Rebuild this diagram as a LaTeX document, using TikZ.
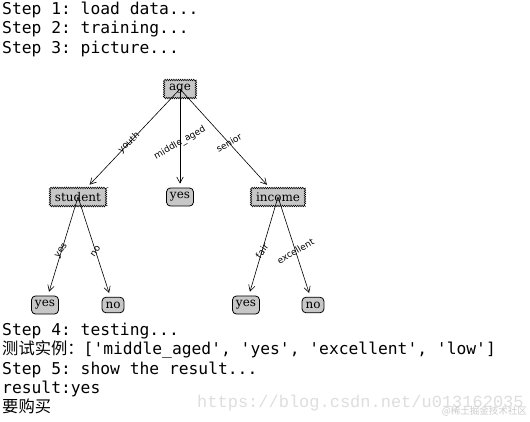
\documentclass[tikz,border=0pt]{standalone}
\usepackage{fontspec}
\setmonofont{DejaVu Sans Mono}
\newfontfamily\cjk{Noto Sans CJK SC}
\newfontfamily\nodefont{DejaVu Serif}
\newfontfamily\labfont{DejaVu Sans}
\newfontfamily\wmfont{Liberation Mono}
\usetikzlibrary{decorations.pathmorphing,arrows.meta,calc}
\tikzset{
  console/.style={anchor=base west, inner sep=0pt, font=\fontsize{16.3}{18}\ttfamily},
  decnode/.style={draw, fill=black!22, decorate, decoration={zigzag, segment length=2.2pt, amplitude=0.8pt},
    inner xsep=5pt, inner ysep=4.5pt, font=\fontsize{12}{12}\nodefont, line width=0.5pt},
  leafnode/.style={draw, fill=black!22, rounded corners=4pt, inner xsep=3.5pt, inner ysep=4.5pt,
    font=\fontsize{12}{12}\nodefont, line width=0.8pt},
  treearrow/.style={-{Straight Barb[length=6pt,width=6.5pt]}, line width=0.6pt, shorten >=4pt},
  edgelab/.style={font=\fontsize{9}{9}\labfont, inner sep=0pt},
  watermark/.style={text=black!13, inner sep=0pt}
}
\begin{document}
\begin{tikzpicture}[x=1pt,y=-1pt]
\useasboundingbox (0,0) rectangle (530,421);
\fill[white] (0,0) rectangle (530,421);
% console text
\node[console] (s1) at (2,14) {Step 1: load data...};
\node[console] (s2) at (2,33) {Step 2: training...};
\node[console] (s3) at (2,53) {Step 3: picture...};
\node[console] (s4) at (2,335) {Step 4: testing...};
\node[console] (s5) at (2,354) {{\cjk 测试实例：}['middle\_aged', 'yes', 'excellent', 'low']};
\node[console] (s6) at (2,374) {Step 5: show the result...};
\node[console] (s7) at (2,393) {result:yes};
\node[console] (s8) at (2,412) {\cjk 要购买};
% tree nodes
\node[decnode] (age) at (180,89) {age};
\node[decnode] (student) at (78,197) {student};
\node[leafnode] (myes) at (180,197) {yes};
\node[decnode] (income) at (278,197) {income};
\node[leafnode] (syes) at (45,305) {yes};
\node[leafnode] (sno) at (113,305) {no};
\node[leafnode] (iyes) at (246,305) {yes};
\node[leafnode] (ino) at (313,305) {no};
% arrows
\draw[treearrow] (age.center) -- (student);
\draw[treearrow] (age.center) -- (myes);
\draw[treearrow] (age.center) -- (income);
\draw[treearrow] (student.center) -- (syes);
\draw[treearrow] (student.center) -- (sno);
\draw[treearrow] (income.center) -- (iyes);
\draw[treearrow] (income.center) -- (ino);
% edge labels
\node[edgelab, rotate=43] (lyouth) at ($(age)!0.5!(student)$) {youth};
\node[edgelab, rotate=30] (lmid) at ($(age)!0.5!(myes)$) {middle\_aged};
\node[edgelab, rotate=30] (lsen) at ($(age)!0.5!(income)$) {senior};
\node[edgelab, rotate=55] (lyes) at ($(student)!0.5!(syes)$) {yes};
\node[edgelab, rotate=55] (lno) at ($(student)!0.5!(sno)$) {no};
\node[edgelab, rotate=55] (lfair) at ($(income)!0.5!(iyes)$) {fair};
\node[edgelab, rotate=30] (lexc) at ($(income)!0.5!(ino)$) {excellent};
% watermark
\node[watermark, anchor=base west, font=\fontsize{17}{18}\wmfont] (wm1) at (197,407) {https://blog.csdn.net/u013162035};
\node[watermark, anchor=base east, text=black!20, font=\fontsize{9.5}{10}\cjk] (wm2) at (527,414) {@稀土掘金技术社区};
\end{tikzpicture}
\end{document}
